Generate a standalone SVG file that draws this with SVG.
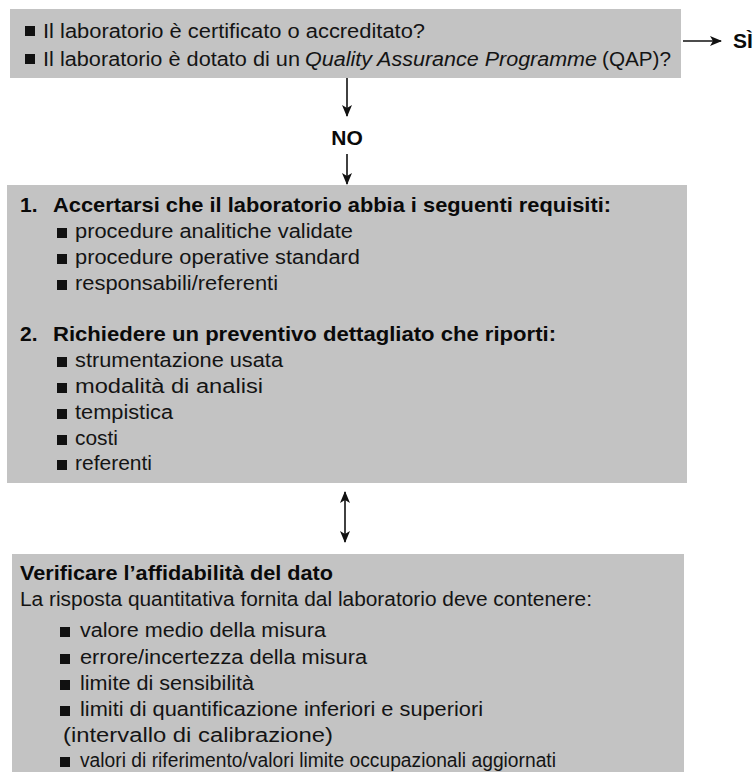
<svg xmlns="http://www.w3.org/2000/svg" width="753" height="772" viewBox="0 0 753 772">
<style>
.box{fill:#c3c3c3;stroke:none}
.t{font-family:"Liberation Sans",Arial,sans-serif;font-size:20px;fill:#141414}
.b{font-family:"Liberation Sans",Arial,sans-serif;font-size:21px;font-weight:bold;fill:#0a0a0a}
.i{font-style:italic}
.ln{stroke:#111;stroke-width:1.6;fill:none}
.blt{fill:#111}
</style>
<defs>
<marker id="ah" viewBox="0 0 12 10" refX="11" refY="5" markerWidth="12" markerHeight="10" markerUnits="userSpaceOnUse" orient="auto-start-reverse">
<path d="M0,0 L12,5 L0,10 L3,5 z" fill="#111"/>
</marker>
<rect id="sq" width="10" height="10"/>
</defs>
<rect width="753" height="772" fill="#ffffff"/>

<g id="node-domande">
<rect class="box" x="10" y="9" width="671" height="69"/>
<use href="#sq" class="blt" x="25" y="26"/>
<text class="t" x="43" y="38" textLength="382" lengthAdjust="spacingAndGlyphs">Il laboratorio è certificato o accreditato?</text>
<use href="#sq" class="blt" x="25" y="54"/>
<text class="t" x="43" y="66" textLength="257" lengthAdjust="spacingAndGlyphs">Il laboratorio è dotato di un</text>
<text class="t i" x="305" y="66" textLength="292" lengthAdjust="spacingAndGlyphs">Quality Assurance Programme</text>
<text class="t" x="602" y="66" textLength="69" lengthAdjust="spacingAndGlyphs">(QAP)?</text>
</g>

<g id="node-si">
<text class="b" x="733" y="48" font-size="22">SÌ</text>
</g>

<g id="node-no">
<text class="b" x="347" y="145" text-anchor="middle">NO</text>
</g>

<g id="node-requisiti">
<rect class="box" x="7" y="185" width="680" height="298"/>
<text class="b" x="20" y="212">1.</text>
<text class="b" x="53" y="212" textLength="558" lengthAdjust="spacingAndGlyphs">Accertarsi che il laboratorio abbia i seguenti requisiti:</text>
<use href="#sq" class="blt" x="57" y="228"/>
<text class="t" x="75" y="238" textLength="278" lengthAdjust="spacingAndGlyphs">procedure analitiche validate</text>
<use href="#sq" class="blt" x="57" y="254"/>
<text class="t" x="75" y="264" textLength="285" lengthAdjust="spacingAndGlyphs">procedure operative standard</text>
<use href="#sq" class="blt" x="57" y="280"/>
<text class="t" x="75" y="290" textLength="203" lengthAdjust="spacingAndGlyphs">responsabili/referenti</text>
<text class="b" x="20" y="341">2.</text>
<text class="b" x="53" y="341" textLength="503" lengthAdjust="spacingAndGlyphs">Richiedere un preventivo dettagliato che riporti:</text>
<use href="#sq" class="blt" x="57" y="357"/>
<text class="t" x="75" y="367" textLength="208" lengthAdjust="spacingAndGlyphs">strumentazione usata</text>
<use href="#sq" class="blt" x="57" y="383"/>
<text class="t" x="75" y="393" textLength="188" lengthAdjust="spacingAndGlyphs">modalità di analisi</text>
<use href="#sq" class="blt" x="57" y="409"/>
<text class="t" x="75" y="419" textLength="98" lengthAdjust="spacingAndGlyphs">tempistica</text>
<use href="#sq" class="blt" x="57" y="435"/>
<text class="t" x="75" y="445" textLength="43" lengthAdjust="spacingAndGlyphs">costi</text>
<use href="#sq" class="blt" x="57" y="460"/>
<text class="t" x="75" y="470" textLength="77" lengthAdjust="spacingAndGlyphs">referenti</text>
</g>

<g id="node-verifica">
<rect class="box" x="12" y="554" width="672" height="218"/>
<text class="b" x="20" y="580" textLength="313" lengthAdjust="spacingAndGlyphs">Verificare l’affidabilità del dato</text>
<text class="t" x="20" y="606" textLength="572" lengthAdjust="spacingAndGlyphs">La risposta quantitativa fornita dal laboratorio deve contenere:</text>
<use href="#sq" class="blt" x="60" y="627"/>
<text class="t" x="80" y="637" textLength="246" lengthAdjust="spacingAndGlyphs">valore medio della misura</text>
<use href="#sq" class="blt" x="60" y="654"/>
<text class="t" x="80" y="664" textLength="287" lengthAdjust="spacingAndGlyphs">errore/incertezza della misura</text>
<use href="#sq" class="blt" x="60" y="680"/>
<text class="t" x="80" y="690" textLength="174" lengthAdjust="spacingAndGlyphs">limite di sensibilità</text>
<use href="#sq" class="blt" x="60" y="706"/>
<text class="t" x="80" y="716" textLength="403" lengthAdjust="spacingAndGlyphs">limiti di quantificazione inferiori e superiori</text>
<text class="t" x="63" y="742" textLength="270" lengthAdjust="spacingAndGlyphs">(intervallo di calibrazione)</text>
<use href="#sq" class="blt" x="60" y="757"/>
<text class="t" x="80" y="767" textLength="476" lengthAdjust="spacingAndGlyphs">valori di riferimento/valori limite occupazionali aggiornati</text>
</g>

<g id="connectors">
<line class="ln" x1="683" y1="41" x2="721" y2="41" marker-end="url(#ah)"/>
<line class="ln" x1="347" y1="78" x2="347" y2="116" marker-end="url(#ah)"/>
<line class="ln" x1="347" y1="154" x2="347" y2="184" marker-end="url(#ah)"/>
<line class="ln" x1="345" y1="492" x2="345" y2="542" marker-start="url(#ah)" marker-end="url(#ah)"/>
</g>
</svg>
